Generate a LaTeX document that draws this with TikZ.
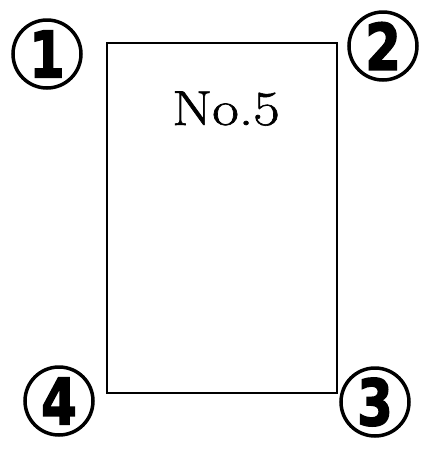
\documentclass[tikz,border=0pt]{standalone}
\usepackage{fontspec}
\newfontfamily\digitfont{DejaVu Sans}[BoldFeatures={FakeBold=2.5}]
\newfontfamily\titlefont{Latin Modern Roman}[FakeBold=1.2]
\begin{document}
\begin{tikzpicture}[x=1pt,y=-1pt,
  numcircle/.style={circle, draw, line width=3.5pt, minimum size=68pt, inner sep=0pt,
    font=\digitfont\bfseries\fontsize{64}{64}\selectfont},
  plate/.style={draw, line width=2pt, inner sep=0pt, anchor=north west,
    minimum width=230pt, minimum height=350pt},
]
\useasboundingbox (0,0) rectangle (426,451);
\node[plate] (box) at (106,42) {};
\node[font=\titlefont\fontsize{49}{49}\selectfont, anchor=base, inner sep=0pt] (title) at (226,125) {\scalebox{1.18}[1]{No.5}};
\node[numcircle] (c1) at (47,54) {\scalebox{0.8}[1]{1}};
\node[numcircle] (c2) at (383,46) {\scalebox{0.8}[1]{2}};
\node[numcircle] (c3) at (375,402) {\scalebox{0.8}[1]{3}};
\node[numcircle] (c4) at (59,401) {\scalebox{0.8}[1]{4}};
\end{tikzpicture}
\end{document}
